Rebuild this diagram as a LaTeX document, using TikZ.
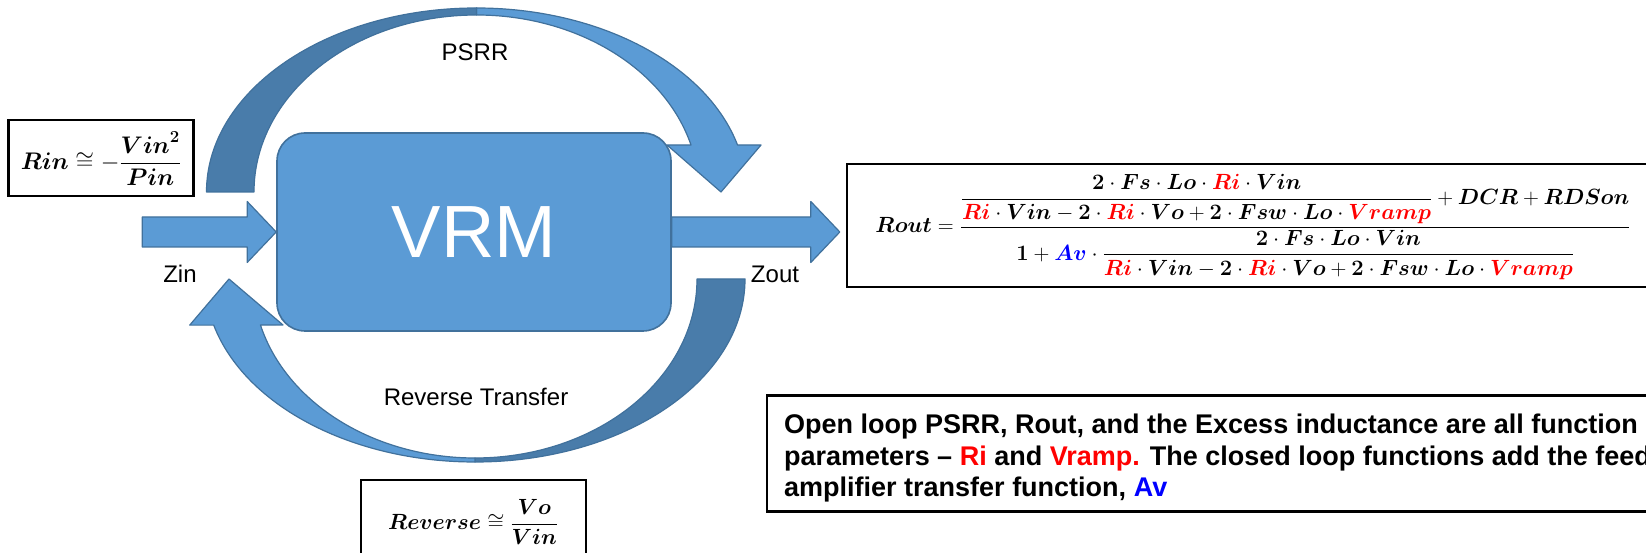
\documentclass[tikz,border=0pt]{standalone}
\usepackage{fix-cm}
\usepackage{amsmath}
\usepackage[no-math]{fontspec}
\setmainfont{Liberation Sans}
\usetikzlibrary{calc}
\DeclareMathAlphabet{\mathbi}{OML}{cmm}{b}{it}
\definecolor{vrmblue}{HTML}{5B9BD5}
\definecolor{vrmdark}{HTML}{497CAA}
\definecolor{vrmedge}{HTML}{41719C}
\newcommand{\Ri}{\textcolor{red}{\mathbi{Ri}}}
\newcommand{\Vramp}{\textcolor{red}{\mathbi{Vramp}}}
\newcommand{\Av}{\textcolor{blue}{\mathbi{Av}}}
\newcommand{\two}{\mathbf{2}}
\newcommand{\dnm}{\Ri\cdot\mathbi{Vin}-\two\cdot\Ri\cdot\mathbi{Vo}+\two\cdot\mathbi{Fsw}\cdot\mathbi{Lo}\cdot\Vramp}
\begin{document}
\begin{tikzpicture}[x=1pt,y=1pt,
  blk/.style={fill=vrmblue,draw=vrmedge,line width=1.2pt,line join=round},
  back/.style={fill=vrmdark,draw=vrmedge,line width=1.2pt,line join=round},
  eqbox/.style={draw=black,line width=2.7pt},
  lbl/.style={font=\fontsize{24}{28}\selectfont}]
  \path[use as bounding box,clip] (0,0) rectangle (1646,553);
  \node[blk,line width=1.6pt,rounded corners=28pt,minimum width=394pt,minimum height=198pt,
    text=white,font=\fontsize{74}{80}\selectfont] (vrm) at (474,321) {VRM};
  \draw[blk] (vrm.west) -- ++(-29,30.5) -- ++(0,-15.5) -- ++(-105,0) -- ++(0,-30)
    -- ++(105,0) -- ++(0,-15.5) -- cycle;
  \draw[blk] (vrm.east) ++(0,15) -- ++(139,0) -- ++(0,15.5) -- ++(29,-30.5)
    -- ++(-29,-30.5) -- ++(0,15.5) -- ++(-139,0) -- cycle;
  \coordinate (pc) at (476.5,361);
  \coordinate (rc) at (475,274);
  \draw[blk] ($(pc)+(90:270 and 184)$) arc[start angle=90,end angle=14.8,x radius=270,y radius=184]
    -- ++(23.5,0) -- (721,361) -- (667,408) -- ($(pc)+(15.4:222.5 and 177)$)
    arc[start angle=15.4,end angle=90,x radius=222.5,y radius=177] -- cycle;
  \draw[back] ($(pc)+(180:270 and 184)$) arc[start angle=180,end angle=90,x radius=270,y radius=184]
    -- ++(0,-7) arc[start angle=90,end angle=180,x radius=222.5,y radius=177] -- cycle;
  \draw[back] ($(rc)+(0:270 and 183)$) arc[start angle=0,end angle=-90,x radius=270,y radius=183]
    -- ++(0,4) arc[start angle=-90,end angle=0,x radius=222,y radius=179] -- cycle;
  \draw[blk] ($(rc)+(-90:270 and 183)$) arc[start angle=-90,end angle=-165.4,x radius=270,y radius=183]
    -- ++(-24,0) -- (229,274) -- (283,228) -- ($(rc)+(-165.1:222 and 179)$)
    arc[start angle=-165.1,end angle=-90,x radius=222,y radius=179] -- cycle;
  \node[lbl] (psrr) at (475,501) {PSRR};
  \node[lbl] (zin) at (180,279) {Zin};
  \node[lbl] (zout) at (775,279) {Zout};
  \node[lbl] (revt) at (476,156) {Reverse Transfer};
  \draw[eqbox] (8.5,357) rectangle (193.5,433);
  \node[lbl] (rin) at (101,394) {$\mathbi{Rin}\cong-\dfrac{\mathbi{Vin}^{\mathbf{2}}}{\mathbi{Pin}}$};
  \draw[eqbox] (847,266) rectangle (1700,389);
  \node[font=\fontsize{22}{26}\selectfont] (rout) at (1253,326)
    {$\mathbi{Rout}=\dfrac{\dfrac{\two\cdot\mathbi{Fs}\cdot\mathbi{Lo}\cdot\Ri\cdot\mathbi{Vin}}{\dnm}+\mathbi{DCR}+\mathbi{RDSon}}{\mathbf{1}+\Av\cdot\dfrac{\two\cdot\mathbi{Fs}\cdot\mathbi{Lo}\cdot\mathbi{Vin}}{\dnm}}$};
  \draw[eqbox] (361,-10) rectangle (586,73);
  \node[font=\fontsize{22}{26}\selectfont] (rev) at (473,31) {$\mathbi{Reverse}\cong\dfrac{\mathbi{Vo}}{\mathbi{Vin}}$};
  \draw[eqbox] (767,41.5) rectangle (1700,157.5);
  \node[anchor=west,align=left,inner sep=0pt,font=\fontsize{27}{31.5}\selectfont\bfseries] (note) at (784,94.5)
    {Open loop PSRR, Rout, and the Excess inductance are all function\\
     parameters \textendash{} \textcolor{red}{Ri} and \textcolor{red}{Vramp.} The closed loop functions add the feed\\
     amplifier transfer function, \textcolor{blue}{Av}};
\end{tikzpicture}
\end{document}
